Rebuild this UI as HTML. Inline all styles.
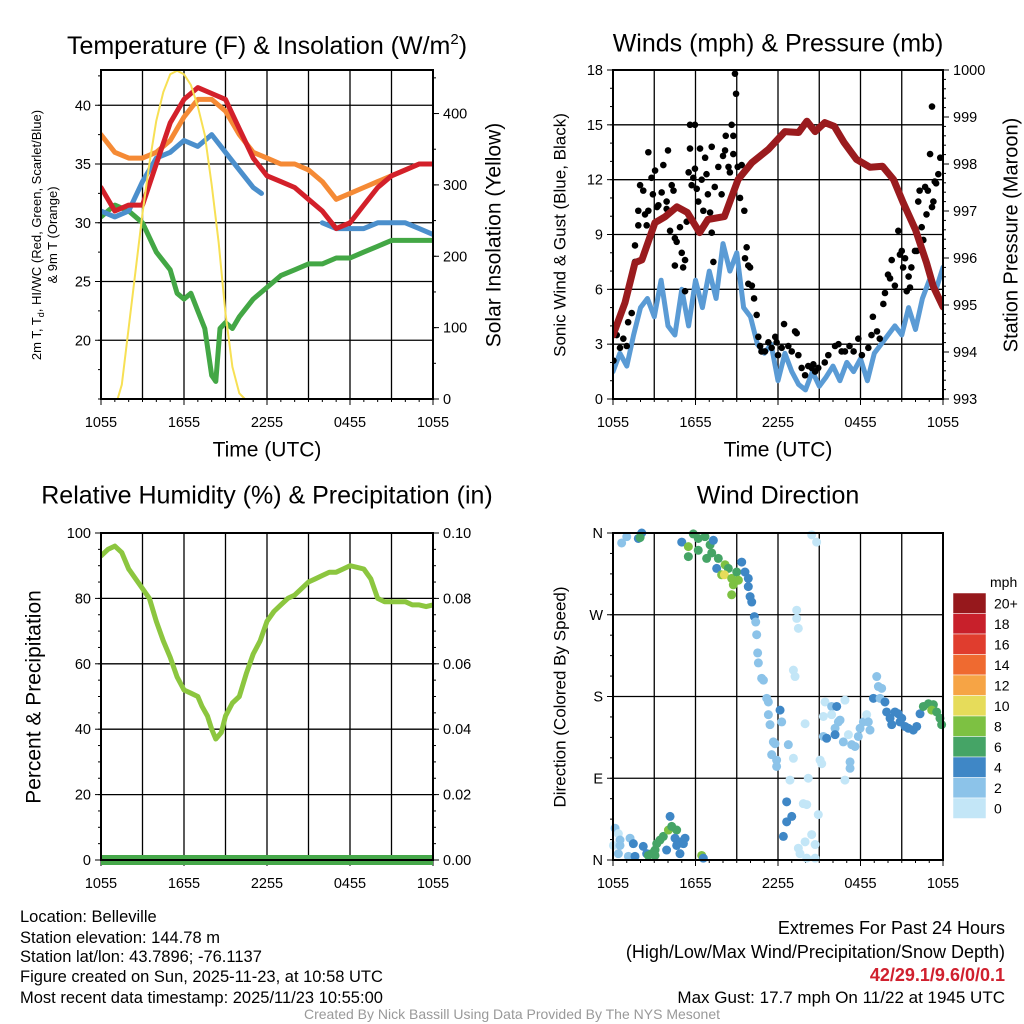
<!DOCTYPE html>
<html><head><meta charset="utf-8"><style>
body{margin:0;background:#fff;}
svg{display:block;font-family:"Liberation Sans",sans-serif;}
</style></head><body>
<svg id="chart" width="1024" height="1024" viewBox="0 0 1024 1024" xmlns="http://www.w3.org/2000/svg">
<rect width="1024" height="1024" fill="#fff"/>
<g id="layer"></g>
<!-- titles -->
<text x="267" y="54" font-size="25" text-anchor="middle">Temperature (F) &amp; Insolation (W/m<tspan dy="-10" font-size="15">2</tspan><tspan dy="10">)</tspan></text>
<text x="778" y="45" font-size="25" text-anchor="middle" dominant-baseline="middle">Winds (mph) &amp; Pressure (mb)</text>
<text x="267" y="497" font-size="25" text-anchor="middle" dominant-baseline="middle">Relative Humidity (%) &amp; Precipitation (in)</text>
<text x="778" y="497" font-size="25" text-anchor="middle" dominant-baseline="middle">Wind Direction</text>
<!-- axis titles -->
<g font-size="13" text-anchor="middle">
<text transform="translate(41,235) rotate(-90)">2m T, T<tspan font-size="9" dy="3">d</tspan><tspan dy="-3">, HI/WC (Red, Green, Scarlet/Blue)</tspan></text>
<text transform="translate(57,235) rotate(-90)">&amp; 9m T (Orange)</text>
</g>
<text transform="translate(495,235) rotate(-90)" font-size="21" text-anchor="middle" dominant-baseline="middle">Solar Insolation (Yellow)</text>
<text x="267" y="451" font-size="21" text-anchor="middle" dominant-baseline="middle">Time (UTC)</text>
<text x="778" y="451" font-size="21" text-anchor="middle" dominant-baseline="middle">Time (UTC)</text>
<text transform="translate(561,235) rotate(-90)" font-size="17" text-anchor="middle" dominant-baseline="middle">Sonic Wind &amp; Gust (Blue, Black)</text>
<text transform="translate(1012,235) rotate(-90)" font-size="20" text-anchor="middle" dominant-baseline="middle">Station Pressure (Maroon)</text>
<text transform="translate(35,697) rotate(-90)" font-size="21" text-anchor="middle" dominant-baseline="middle">Percent &amp; Precipitation</text>
<text transform="translate(561,697) rotate(-90)" font-size="17" text-anchor="middle" dominant-baseline="middle">Direction (Colored By Speed)</text>
<!-- footer text -->
<g font-size="16.5">
<text x="20" y="922">Location: Belleville</text>
<text x="20" y="943">Station elevation: 144.78 m</text>
<text x="20" y="962">Station lat/lon: 43.7896; -76.1137</text>
<text x="20" y="982">Figure created on Sun, 2025-11-23, at 10:58 UTC</text>
<text x="20" y="1003">Most recent data timestamp: 2025/11/23 10:55:00</text>
</g>
<g text-anchor="end">
<text x="1005" y="934" font-size="18">Extremes For Past 24 Hours</text>
<text x="1005" y="958" font-size="18">(High/Low/Max Wind/Precipitation/Snow Depth)</text>
<text x="1005" y="981" font-size="18" font-weight="bold" fill="#d0202e">42/29.1/9.6/0/0.1</text>
<text x="1005" y="1003" font-size="17">Max Gust: 17.7 mph On 11/22 at 1945 UTC</text>
</g>
<text x="512" y="1019" font-size="14" fill="#999" text-anchor="middle">Created By Nick Bassill Using Data Provided By The NYS Mesonet</text>
</svg>
<script>
// ---- Temperature panel data (hours since 1055 UTC) ----
const tempHours = [0,1,2,3,4,5,6,7,8,9,10,11,12,13,14,15,16,17,18,19,20,21,22,23,24];
const temp2m = [33,31,31.5,31.5,35,38.5,40.5,41.5,41,40.5,38,35.5,34,33.5,33,32,31,29.5,30,31.5,33,34,34.5,35,35];
const temp9m = [37.5,36,35.5,35.5,36,37,39,40.5,40.5,39.5,37.5,36,35.5,35,35,34.5,33.5,32,32.5,33,33.5,34,34.5,35,35];
const hiwcHoursA = [0,1,2,3,4,5,6,7,8,9,10,11,11.6];
const hiwcA = [31,30.5,31,33.5,35.5,36,37,36.5,37.5,36,34.5,33,32.5];
const hiwcHoursB = [16,17,18,19,20,21,22,23,24];
const hiwcB = [30,29.5,29.5,29.5,30,30,30,29.5,29];
const dewHours = [0,1,2,3,4,5,5.5,6,6.5,7,7.5,8,8.3,8.6,9,9.5,10,11,12,13,14,15,16,17,18,19,20,21,22,23,24];
const dewPoint = [30.5,31.5,31,30,27.5,26,24,23.5,24,22.5,21,17,16.5,21,21.5,21,22,23.5,24.5,25.5,26,26.5,26.5,27,27,27.5,28,28.5,28.5,28.5,28.5];
const solarHours = [0,1.2,1.5,2,2.5,3,3.5,4,4.5,5,5.5,6,6.5,7,7.5,8,8.5,9,9.5,10,10.4,24];
const solar = [0,0,20,100,180,260,330,390,430,455,460,455,440,410,370,300,220,120,45,8,0,0];
const timeTickLabels = ["1055","1655","2255","0455","1055"];
const tempTicks = [20,25,30,35,40];
const solarTicks = [0,100,200,300,400];
// ---- Wind panel data ----
const windHours = [0,0.5,1,1.5,2,2.5,3,3.5,4,4.5,5,5.5,6,6.5,7,7.5,8,8.5,9,9.5,10,10.5,11,11.5,12,12.5,13,13.5,14,14.5,15,15.5,16,16.5,17,17.5,18,18.5,19,19.5,20,20.5,21,21.5,22,22.5,23,23.5,24];
const windSpeed = [1.5,2.5,1.8,3.5,5.0,5.5,4.5,6.5,4.0,3.5,6.0,4.0,6.5,5.0,7.0,5.5,8.5,7.0,8.0,5.0,4.5,3.0,2.5,3.0,1.0,2.5,1.5,0.8,0.5,1.5,0.7,1.2,1.8,1.0,2.0,1.5,2.2,1.0,2.5,3.0,3.5,4.0,3.5,5.0,3.8,5.5,6.5,6.0,7.2];
const gustHours = [0.03,0.27,0.51,0.75,1.0,1.1,1.36,1.6,1.6,1.84,1.84,1.97,2.2,2.33,2.45,2.57,2.57,2.8,2.9,3.06,3.2,3.3,3.54,3.66,3.9,3.9,4.0,4.15,4.27,4.4,4.5,4.63,4.5,4.87,5.0,5.1,5.24,5.24,5.36,5.5,5.6,5.6,5.72,5.84,5.96,5.96,6.09,6.2,6.33,6.45,6.57,6.7,6.8,6.9,7.06,7.18,7.18,7.3,7.4,7.66,7.9,8.0,8.15,8.2,8.4,8.5,8.63,8.75,8.75,8.87,8.95,9.07,9.24,9.36,9.55,9.72,9.6,9.84,9.97,9.84,10.1,10.26,10.45,10.57,10.7,10.8,11.05,11.3,11.54,11.8,11.9,12.0,12.27,12.44,12.75,13.0,13.24,13.36,13.48,13.72,13.97,14.2,14.45,14.57,14.7,14.93,15.4,15.66,16.15,16.4,16.63,16.87,17.2,17.5,17.84,18.1,18.57,18.8,18.9,19.2,19.4,19.66,19.78,20.0,20.15,20.27,20.5,20.75,20.87,21.0,21.1,21.24,21.36,21.5,21.6,21.7,21.96,22.1,22.2,22.3,22.45,22.57,22.7,22.8,22.9,23.06,23.2,23.3,23.4,23.5,23.66,23.8,23.2];
const gustSpeed = [2.1,3.5,2.8,3.3,2.9,4.2,4.7,7.5,8.4,10.3,9.5,11.7,11.4,10.1,9.5,10.3,13.5,12.1,11.2,12.5,10.5,10.6,11.3,12.8,10.8,10.4,13.6,9.2,11.7,11.4,8.8,8.6,7.3,9.4,8.0,7.2,7.6,5.9,9.7,12.4,15.0,13.7,11.7,12.1,15.0,12.6,11.5,10.8,13.7,12.0,10.3,13.2,12.3,11.2,10.2,13.8,9.1,7.5,11.6,12.7,11.2,13.3,13.6,14.4,12.7,12.4,15.0,14.4,13.4,17.8,16.7,12.7,11.0,12.8,10.3,8.3,7.7,7.3,7.2,6.3,6.2,5.5,4.6,3.4,2.9,2.6,2.6,3.1,2.8,3.4,3.1,2.4,2.8,4.1,2.9,2.6,3.7,3.6,2.4,1.7,1.3,1.8,1.7,1.9,1.5,1.7,2.0,2.4,2.9,3.0,2.6,2.6,2.9,2.6,3.3,2.4,2.8,3.5,4.5,3.7,3.3,5.2,5.8,6.8,6.6,7.6,6.2,9.2,7.9,8.1,7.2,7.7,5.9,6.7,6.1,7.2,8.1,8.1,10.8,11.4,9.4,8.7,11.6,10.1,11.4,13.4,10.5,10.8,11.9,11.8,12.3,13.2,16.0];
const pressHours = [0,0.87,1.6,2.1,3.05,3.8,4.65,5.4,6.3,6.9,8.1,9.1,10.1,11.3,12.5,13.5,14.1,14.7,15.4,16.1,16.8,17.7,18.7,19.6,20.4,21.1,22.0,22.8,23.3,24];
const pressure = [994.36,995.05,995.9,995.96,996.75,996.88,997.09,996.97,996.54,996.82,996.88,997.67,998.03,998.31,998.69,998.67,998.91,998.69,998.88,998.8,998.46,998.1,997.93,997.95,997.67,997.18,996.6,995.9,995.39,994.96];
const windTicks = [0,3,6,9,12,15,18];
const pressTicks = [993,994,995,996,997,998,999,1000];
// ---- Humidity panel data ----
const rhHours = [0,0.5,1,1.5,2,2.5,3,3.5,4,4.5,5,5.5,6,6.5,7,7.3,7.7,8,8.3,8.7,9,9.5,10,10.5,11,11.5,12,12.5,13,13.5,14,14.5,15,15.5,16,16.5,17,17.5,18,18.5,19,19.5,20,20.5,21,21.5,22,22.5,23,23.5,24];
const rhValues = [93,95,96,94,89,86,83,80,73,67,62,56,52,51,50,47,44,40,37,39,44,48,50,57,63,67,73,76,78,80,81,83,85,86,87,88,88,89,90,89.5,89,86,80,79,79,79,79,78,78,77.5,78];
const precipHours = [0,24];
const precipValues = [0,0];
const rhTicks = [0,20,40,60,80,100];
const precipTicks = ["0.00","0.02","0.04","0.06","0.08","0.10"];
// ---- Direction panel data ----
const dirHours = [0.63,1.0,1.84,2.09,1.97,5.0,5.48,5.48,5.84,6.2,6.2,6.69,6.81,7.06,7.3,7.18,7.66,7.54,7.9,8.15,8.39,8.1,8.63,8.75,8.63,9.0,9.12,9.36,9.6,9.84,9.84,9.97,10.09,10.28,10.38,10.45,10.52,10.57,10.81,10.94,11.18,11.3,11.3,11.42,12.15,12.27,11.66,11.78,12.75,11.54,11.9,11.9,13.12,12.87,13.97,13.36,13.36,13.48,13.12,13.24,14.45,14.81,12.63,13.0,12.63,12.39,14.93,13.84,14.09,14.2,14.45,14.7,13.97,13.6,13.48,14.09,14.7,15.42,15.3,15.3,15.54,15.9,15.9,16.27,16.39,16.15,16.15,16.51,16.87,16.75,17.12,17.36,17.6,17.84,17.97,18.21,18.45,18.57,18.69,16.87,17.24,17.24,15.06,15.18,18.94,19.18,19.3,19.54,19.42,19.78,19.9,20.15,20.27,20.51,20.75,20.87,21.0,21.24,21.48,21.84,22.09,22.33,22.57,22.94,23.3,23.18,23.54,23.78,23.9,0.15,0.39,0.51,0.03,0.51,0.39,1.12,1.6,1.24,1.48,2.2,2.45,2.81,3.06,3.18,3.42,3.66,4.03,4.27,4.63,4.15,4.51,4.87,4.63,5.24,5.12,3.9,4.87,3.06,2.57,6.45,6.57];
const dirDegrees = [349,356,354,360,355,350,345,334,359,354,341,356,332,347,352,338,332,321,314,325,321,314,310,303,292,317,308,328,317,310,301,290,284,268,262,248,228,217,200,198,178,174,160,149,165,152,130,128,127,116,110,103,112,88,150,275,266,255,209,202,358,350,64,48,42,26,50,62,61,90,28,17,20,7,13,2,2,174,158,136,134,169,160,169,152,145,138,154,176,130,138,127,125,136,145,152,160,152,143,88,108,101,110,106,178,202,191,189,178,174,163,156,149,163,161,152,156,147,145,143,147,161,169,172,171,165,163,156,149,35,29,22,16,16,7,4,4,24,18,15,7,7,11,18,22,26,33,37,33,48,24,20,16,24,18,11,7,5,5,5,2];
const dirSpeed = [2,2,4,4,6,4,8,6,6,6,6,6,6,6,4,6,6,4,8,8,6,10,8,8,8,6,8,4,4,4,4,4,4,4,2,2,2,2,2,2,2,2,2,2,4,2,2,2,2,2,2,2,0,0,0,0,0,0,0,0,0,0,4,4,4,4,0,0,0,0,0,0,0,0,0,0,0,0,0,2,4,2,0,4,2,2,4,2,0,2,0,2,2,2,2,2,0,2,2,0,2,2,0,0,4,2,2,2,2,4,4,4,4,4,4,4,4,4,4,4,4,4,6,6,6,8,6,6,6,2,0,2,0,2,2,2,4,2,4,4,4,6,6,6,6,6,8,6,6,4,4,4,4,4,4,4,4,6,6,8,4];
const dirTickLabels = ["N","E","S","W","N"];
const speedBinLabels = ["0","2","4","6","8","10","12","14","16","18","20+"];
const speedBinColors = ["#c3e6f7","#8cc3e9","#3f87c6","#45a466","#7dc142","#e6dc5a","#f6a445","#ef6a30","#e03d2e","#c8202b","#96181c"];

const NS = "http://www.w3.org/2000/svg";
const layer = document.getElementById('layer');
function mk(tag, attrs, parent){
  const e = document.createElementNS(NS, tag);
  for (const k in attrs) e.setAttribute(k, attrs[k]);
  (parent||layer).appendChild(e);
  return e;
}
function lin(d0,d1,r0,r1){return v => r0 + (v-d0)/(d1-d0)*(r1-r0);}

const P1 = {x0:101,x1:433,y0:70,y1:399};
const P2 = {x0:613,x1:943,y0:70,y1:399};
const P3 = {x0:101,x1:433,y0:533,y1:860};
const P4 = {x0:613,x1:943,y0:533,y1:860};
const TICKFS = 14.5;

function frame(P, name, hLines){
  const g = mk('g', {});
  
  
  const xs = lin(0,24,P.x0,P.x1);
  for (let h=3; h<24; h+=3){
    const ln = mk('line',{x1:xs(h),x2:xs(h),y1:P.y0,y2:P.y1,stroke:'#000','stroke-width':1.3},g);
    
    
  }
  hLines.forEach(y=>{
    const ln = mk('line',{x1:P.x0,x2:P.x1,y1:y,y2:y,stroke:'#000','stroke-width':1.3},g);
    
    
  });
  for (let h=0; h<=24; h+=1){
    const major = h%6===0;
    mk('line',{x1:xs(h),x2:xs(h),y1:P.y1,y2:P.y1+(major?6:3),stroke:'#000','stroke-width':1},g);
  }
  timeTickLabels.forEach((lab,i)=>{
    const t = mk('text',{x:xs(i*6),y:P.y1+28,'font-size':TICKFS,'text-anchor':'middle'},g);
    t.textContent = lab;
    
    
  });
  return g;
}
function border(P, g){
  mk('rect',{x:P.x0,y:P.y0,width:P.x1-P.x0,height:P.y1-P.y0,fill:'none',stroke:'#000','stroke-width':2},g);
}
function yTicks(P, g, side, scale, values, labels, minorStep, dmin, dmax){
  const x = side==='left'?P.x0:P.x1, dir = side==='left'?-1:1;
  for (let v=dmin; v<=dmax+1e-9; v+=minorStep){
    const y = scale(v); if (y<P.y0-0.5||y>P.y1+0.5) continue;
    mk('line',{x1:x,x2:x+dir*3,y1:y,y2:y,stroke:'#000','stroke-width':1},g);
  }
  values.forEach((v,i)=>{
    const y = scale(v);
    mk('line',{x1:x,x2:x+dir*6,y1:y,y2:y,stroke:'#000','stroke-width':1},g);
    const t = mk('text',{x:x+dir*10,y:y+5,'font-size':TICKFS,'text-anchor':side==='left'?'end':'start'},g);
    t.textContent = labels[i];
    
    
  });
}
function path(xsA, ysA, xs, ys, attrs, name, parent){
  let d='';
  xsA.forEach((h,i)=>{d += (i?'L':'M') + xs(h).toFixed(1)+','+ys(ysA[i]).toFixed(1);});
  const p = mk('path', Object.assign({d:d,fill:'none','stroke-linejoin':'round','stroke-linecap':'round'}, attrs), parent);
  
  
  return p;
}

// ===== Panel 1 =====
{
  const xs = lin(0,24,P1.x0,P1.x1);
  const yT = lin(15,43,P1.y1,P1.y0);
  const yS = lin(0,461,P1.y1,P1.y0);
  const g = frame(P1,'temperature-panel',tempTicks.map(yT));
  const clip = mk('clipPath',{id:'c1'},g); mk('rect',{x:P1.x0,y:P1.y0-4,width:P1.x1-P1.x0,height:P1.y1-P1.y0+4},clip);
  const s = mk('g',{'clip-path':'url(#c1)'},g);
  path(tempHours,temp9m,xs,yT,{stroke:'#f58a35','stroke-width':5},'temp-9m-line',s);
  path(dewHours,dewPoint,xs,yT,{stroke:'#43a745','stroke-width':5},'dewpoint-line',s);
  path(hiwcHoursA,hiwcA,xs,yT,{stroke:'#4b8fcc','stroke-width':5},'heat-index-line',s);
  path(hiwcHoursB,hiwcB,xs,yT,{stroke:'#4b8fcc','stroke-width':5},'wind-chill-line',s);
  path(tempHours,temp2m,xs,yT,{stroke:'#d3202a','stroke-width':5},'temp-2m-line',s);
  path(solarHours,solar,xs,yS,{stroke:'#f7e054','stroke-width':2},'solar-insolation-line',s);
  border(P1,g);
  yTicks(P1,g,'left',yT,tempTicks,tempTicks.map(String),2.5,15,43);
  yTicks(P1,g,'right',yS,solarTicks,solarTicks.map(String),50,0,461);
}
// ===== Panel 2 =====
{
  const xs = lin(0,24,P2.x0,P2.x1);
  const yW = lin(0,18,P2.y1,P2.y0);
  const yP = lin(993,1000,P2.y1,P2.y0);
  const g = frame(P2,'wind-panel',[3,6,9,12,15].map(yW));
  const clip = mk('clipPath',{id:'c2'},g); mk('rect',{x:P2.x0,y:P2.y0-6,width:P2.x1-P2.x0,height:P2.y1-P2.y0+6},clip);
  const s = mk('g',{'clip-path':'url(#c2)'},g);
  path(windHours,windSpeed,xs,yW,{stroke:'#5a9bd5','stroke-width':5},'sonic-wind-line',s);
  gustHours.forEach((h,i)=>{
    const c = mk('circle',{cx:xs(h),cy:yW(gustSpeed[i]),r:3.3,fill:'#000'},s);
    
    
  });
  path(pressHours,pressure,xs,yP,{stroke:'#9a1b1e','stroke-width':7},'pressure-line',s);
  border(P2,g);
  yTicks(P2,g,'left',yW,windTicks,windTicks.map(String),1,0,18);
  yTicks(P2,g,'right',yP,pressTicks,pressTicks.map(String),0.2,993,1000);
}
// ===== Panel 3 =====
{
  const xs = lin(0,24,P3.x0,P3.x1);
  const yR = lin(0,100,P3.y1,P3.y0);
  const yPr = lin(0,0.1,P3.y1,P3.y0);
  const g = frame(P3,'humidity-panel',[20,40,60,80].map(yR));
  const clip = mk('clipPath',{id:'c3'},g); mk('rect',{x:P3.x0,y:P3.y0,width:P3.x1-P3.x0,height:P3.y1-P3.y0+6},clip);
  const s = mk('g',{'clip-path':'url(#c3)'},g);
  path(rhHours,rhValues,xs,yR,{stroke:'#8cc63f','stroke-width':5},'relative-humidity-line',s);
  path(precipHours,precipValues,xs,yPr,{stroke:'#46a84a','stroke-width':10,'stroke-linecap':'butt'},'precipitation-line',g);
  border(P3,g);
  yTicks(P3,g,'left',yR,rhTicks,rhTicks.map(String),5,0,100);
  yTicks(P3,g,'right',yPr,[0,0.02,0.04,0.06,0.08,0.1],precipTicks,0.005,0,0.1);
}
// ===== Panel 4 =====
{
  const xs = lin(0,24,P4.x0,P4.x1);
  const yD = lin(0,360,P4.y1,P4.y0);
  const g = frame(P4,'direction-panel',[90,180,270].map(yD));
  const s = mk('g',{},g);
  dirHours.forEach((h,i)=>{
    const bin = Math.min(10, Math.floor(dirSpeed[i]/2));
    const c = mk('circle',{cx:xs(h),cy:yD(dirDegrees[i]),r:4.5,fill:speedBinColors[bin]},s);
    
    
  });
  border(P4,g);
  yTicks(P4,g,'left',yD,[0,90,180,270,360],dirTickLabels,22.5,0,360);
  const cb = mk('g',{},g);
  
  
  const t = mk('text',{x:990,y:587,'font-size':14},cb); t.textContent='mph';
  const bh = 20.5, top = 593;
  speedBinLabels.forEach((lab,i)=>{
    const k = 10 - i;
    const y = top + i*bh;
    const r = mk('rect',{x:953,y:y,width:33,height:bh,fill:speedBinColors[k],stroke:'#fff','stroke-width':0.5},cb);
    
    
    const tl = mk('text',{x:994,y:y+bh/2+5,'font-size':14},cb);
    tl.textContent = speedBinLabels[k];
    
    
  });
}
</script>
</body></html>
